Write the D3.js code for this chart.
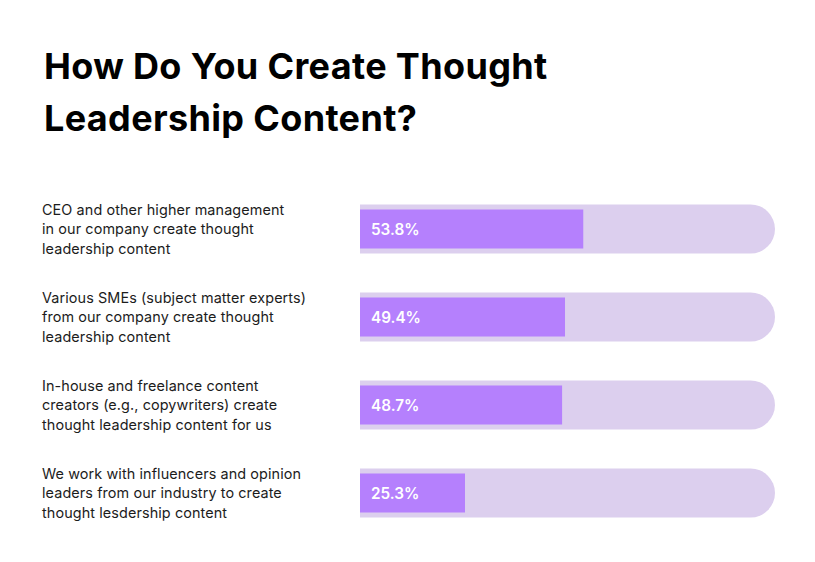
<!DOCTYPE html>
<html>
<head>
<meta charset="utf-8">
<script src="https://cdn.jsdelivr.net/npm/d3@7"></script>
<style>
  body { margin: 0; background: #fff; }
  svg { display: block; }
</style>
</head>
<body>
<div id="container"></div>
<script>
const w = 815, h = 562;

// data
const titleLines = ['How Do You Create Thought', 'Leadership Content?'];
const categories = [
    ['CEO and other higher management', 'in our company create thought', 'leadership content'],
    ['Various SMEs (subject matter experts)', 'from our company create thought', 'leadership content'],
    ['In-house and freelance content', 'creators (e.g., copywriters) create', 'thought leadership content for us'],
    ['We work with influencers and opinion', 'leaders from our industry to create', 'thought lesdership content']
];
const values = [53.8, 49.4, 48.7, 25.3];

const svg = d3.select('#container').append('svg')
    .attr('width', w).attr('height', h);

// title
svg.append('g').selectAll('text')
    .data(titleLines)
    .enter().append('text')
    .attr('x', 44)
    .attr('y', (d, i) => 79 + i * 52)
    .attr('font-family', 'Inter')
    .attr('font-weight', 700)
    .attr('font-size', 36)
    .attr('letter-spacing', 0.35)
    .attr('fill', '#000')
    .text(d => d);

// scales
const idx = d3.range(values.length);
const xScale = d3.scaleLinear().domain([0, 100]).range([360, 775]);
const yScale = d3.scaleBand().domain(idx).range([204.5, 517.5]).paddingInner(0.443).paddingOuter(0);
const bw = yScale.bandwidth();
const inset = 5;

// track with rounded right end
function track(y) {
    const x0 = xScale(0), x1 = xScale(100), r = bw / 2;
    return `M${x0},${y}H${x1 - r}A${r},${r} 0 0 1 ${x1 - r},${y + bw}H${x0}Z`;
}

svg.append('g').selectAll('path')
    .data(idx)
    .enter().append('path')
    .attr('d', i => track(yScale(i)))
    .attr('fill', '#dccfee');

svg.append('g').selectAll('rect')
    .data(idx)
    .enter().append('rect')
    .attr('x', xScale(0))
    .attr('y', i => yScale(i) + inset)
    .attr('width', i => xScale(values[i]) - xScale(0))
    .attr('height', bw - 2 * inset)
    .attr('fill', '#b580fd');

// value labels
svg.append('g').selectAll('text')
    .data(idx)
    .enter().append('text')
    .attr('x', xScale(0) + 11)
    .attr('y', i => yScale(i) + bw / 2)
    .attr('dy', '0.36em')
    .attr('font-family', 'Inter')
    .attr('font-weight', 600)
    .attr('font-size', 15.3)
    .attr('fill', '#fff')
    .text(i => values[i].toFixed(1) + '%');

// category labels
const lab = svg.append('g').selectAll('text')
    .data(idx)
    .enter().append('text')
    .attr('font-family', 'Inter')
    .attr('font-size', 14.4)
    .attr('letter-spacing', 0.1)
    .attr('fill', '#1c1c1c');
lab.selectAll('tspan')
    .data(i => categories[i].map((t, k) => ({ t, k, i })))
    .enter().append('tspan')
    .attr('x', 42)
    .attr('y', d => yScale(d.i) + bw / 2 + (d.k - 1) * 19.5)
    .attr('dy', '0.36em')
    .text(d => d.t);
</script>
</body>
</html>
